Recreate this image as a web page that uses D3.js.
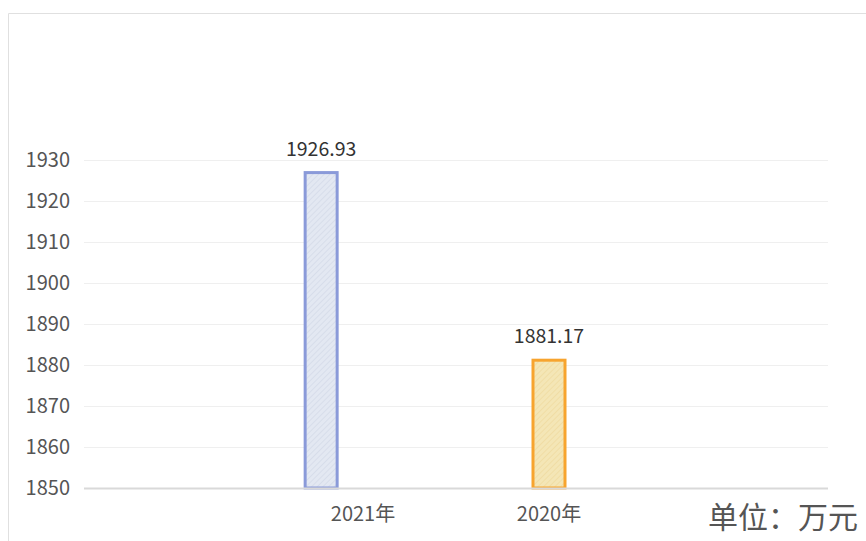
<!DOCTYPE html>
<html>
<head>
<meta charset="utf-8">
<script src="https://cdn.jsdelivr.net/npm/d3@7"></script>
<style>
  html, body { margin: 0; padding: 0; background: #fff; }
  svg { display: block; font-family: "Noto Sans CJK SC", "Noto Sans", sans-serif; }
</style>
</head>
<body>
<div id="chart"></div>
<script>
// categories on the x axis (outer two are empty slots)
var categories = ["", "2021年", "2020年", ""];
var barCats = ["2021年", "2020年"];
var barValues = [1926.93, 1881.17];
var barLabels = ["1926.93", "1881.17"];
var yTicks = [1850, 1860, 1870, 1880, 1890, 1900, 1910, 1920, 1930];
var unitText = "单位：万元";

var W = 866, H = 541;
var svg = d3.select("#chart").append("svg").attr("width", W).attr("height", H);

// hatch patterns for the bars
var defs = svg.append("defs");
function hatch(id, bg, line) {
	var p = defs.append("pattern")
		.attr("id", id)
		.attr("patternUnits", "userSpaceOnUse")
		.attr("width", 4).attr("height", 4)
		.attr("patternTransform", "rotate(45)");
	p.append("rect").attr("width", 4).attr("height", 4).attr("fill", bg);
	p.append("line").attr("x1", 0).attr("y1", 0).attr("x2", 0).attr("y2", 4)
		.attr("stroke", line).attr("stroke-width", 1.2);
}
hatch("h0", "#e3e8f2", "#cfd6e6");
hatch("h1", "#f4e6b6", "#eed79a");
var fills = ["url(#h0)", "url(#h1)"];
var strokes = ["#8a9ad9", "#f7a42e"];
var shift = [-0.225, 0]; // bar offset within its band, as fraction of band width

// outer frame (top and left edges only visible)
svg.append("path")
	.attr("d", "M8.5," + H + "V13.5H" + W)
	.attr("fill", "none").attr("stroke", "#e0e0e0").attr("stroke-width", 1);

var mLeft = 84, mRight = 828, mTop = 160, mBottom = 488;

var x = d3.scaleBand().domain(d3.range(categories.length)).range([mLeft, mRight]);
function xc(label) { return x(categories.indexOf(label)) + x.bandwidth() / 2; }
var y = d3.scaleLinear().domain([1850, 1930]).range([mBottom, mTop]);

// grid lines
svg.append("g").selectAll("line")
	.data(yTicks.slice(1))
	.enter().append("line")
	.attr("x1", mLeft).attr("x2", mRight)
	.attr("y1", function(d) { return y(d) + 0.5; })
	.attr("y2", function(d) { return y(d) + 0.5; })
	.attr("stroke", "#efefef").attr("stroke-width", 1);

// y tick labels
svg.append("g").selectAll("text")
	.data(yTicks)
	.enter().append("text")
	.attr("x", 70)
	.attr("y", function(d) { return y(d); })
	.attr("dy", "0.35em")
	.attr("text-anchor", "end")
	.attr("font-size", 20)
	.attr("fill", "#555")
	.text(function(d) { return d; });

// bars
var bw = 32;
var bars = svg.append("g");
barCats.forEach(function(c, i) {
	var cx = xc(c) + shift[i] * x.bandwidth();
	bars.append("rect")
		.attr("x", cx - bw / 2)
		.attr("y", y(barValues[i]))
		.attr("width", bw)
		.attr("height", y(1850) - y(barValues[i]))
		.attr("fill", fills[i])
		.attr("stroke", strokes[i])
		.attr("stroke-width", 3);
	bars.append("text")
		.attr("x", cx)
		.attr("y", y(barValues[i]) - 17)
		.attr("text-anchor", "middle")
		.attr("font-size", 19.5)
		.attr("fill", "#333")
		.text(barLabels[i]);
});

// x axis line
svg.append("line")
	.attr("x1", mLeft).attr("x2", mRight)
	.attr("y1", mBottom + 0.5).attr("y2", mBottom + 0.5)
	.attr("stroke", "#d9d9d9").attr("stroke-width", 2);

// x labels
svg.append("g").selectAll("text")
	.data(categories.filter(function(d) { return d !== ""; }))
	.enter().append("text")
	.attr("x", function(d) { return xc(d); })
	.attr("y", mBottom + 33)
	.attr("text-anchor", "middle")
	.attr("font-size", 20)
	.attr("fill", "#555")
	.text(function(d) { return d; });

// unit
svg.append("text")
	.attr("x", 858).attr("y", 528)
	.attr("text-anchor", "end")
	.attr("font-size", 30)
	.attr("fill", "#555")
	.text(unitText);
</script>
</body>
</html>
